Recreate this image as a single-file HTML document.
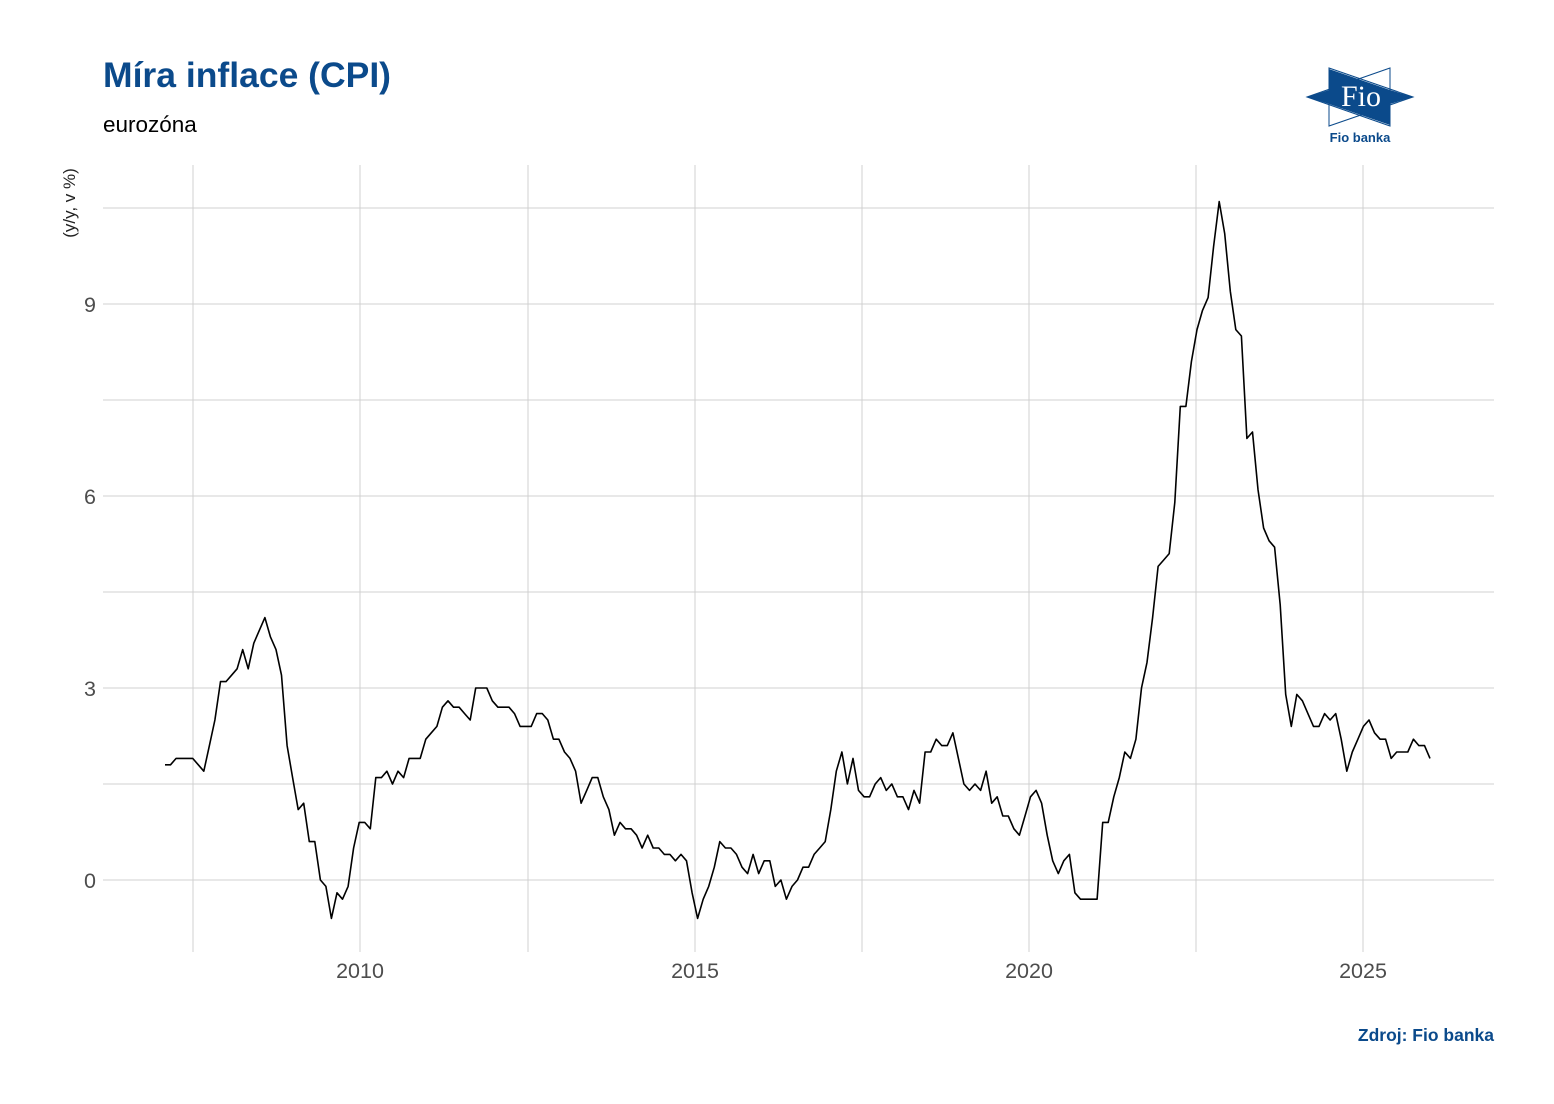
<!DOCTYPE html>
<html><head><meta charset="utf-8"><style>
body{margin:0;background:#fff;width:1554px;height:1104px;overflow:hidden}
svg{display:block}
</style></head><body>
<svg width="1554" height="1104" xmlns="http://www.w3.org/2000/svg" font-family="Liberation Sans, sans-serif">
<rect width="1554" height="1104" fill="#fff"/>
<text x="103" y="87" font-size="35.5" font-weight="bold" fill="#0b4a8b">Míra inflace (CPI)</text>
<text x="103" y="132" font-size="22.5" fill="#000">eurozóna</text>
<g id="grid" stroke="#d0d0d0" stroke-width="1"></g>
<g font-size="21.5" fill="#4d4d4d" text-anchor="end">
<text x="96" y="888">0</text><text x="96" y="696">3</text><text x="96" y="504">6</text><text x="96" y="312">9</text>
</g>
<g font-size="21.5" fill="#4d4d4d" text-anchor="middle">
<text x="360" y="978">2010</text><text x="695" y="978">2015</text><text x="1029" y="978">2020</text><text x="1363" y="978">2025</text>
</g>
<text transform="translate(75,203) rotate(-90)" font-size="17" text-anchor="middle" fill="#222">(y/y, v %)</text>
<polyline id="line" fill="none" stroke="#000" stroke-width="1.6" stroke-linejoin="round"/>
<text x="1494" y="1041" font-size="17.5" font-weight="bold" fill="#0b4a8b" text-anchor="end">Zdroj: Fio banka</text>
<g>
<polygon points="1307,97 1390,68 1390,126" fill="none" stroke="#0b4a8b" stroke-width="1"/>
<polygon points="1413,97 1329,68 1329,126" fill="none" stroke="#0b4a8b" stroke-width="1"/>
<polygon points="1329,69 1390,90 1413,97 1390,104 1390,125 1329,104 1307,97 1329,90" fill="#0b4a8b"/>
<text x="1361" y="106" font-family="Liberation Serif, serif" font-size="30" fill="#fff" text-anchor="middle">Fio</text>
<text x="1360" y="142" font-size="13" font-weight="bold" fill="#0b4a8b" text-anchor="middle">Fio banka</text>
</g>
</svg>
<script>
var g=document.getElementById('grid'),ns='http://www.w3.org/2000/svg';
function ln(x1,y1,x2,y2){var l=document.createElementNS(ns,'line');l.setAttribute('x1',x1);l.setAttribute('y1',y1);l.setAttribute('x2',x2);l.setAttribute('y2',y2);g.appendChild(l);}
[880,784,688,592,496,400,304,208].forEach(function(y){ln(103,y,1494,y);});
[193,360,528,695,862,1029,1196,1363].forEach(function(x){ln(x,165,x,952);});
var d=[1.8,1.8,1.9,1.9,1.9,1.9,1.8,1.7,2.1,2.5,3.1,3.1,
3.2,3.3,3.6,3.3,3.7,3.9,4.1,3.8,3.6,3.2,2.1,1.6,
1.1,1.2,0.6,0.6,0.0,-0.1,-0.6,-0.2,-0.3,-0.1,0.5,0.9,
0.9,0.8,1.6,1.6,1.7,1.5,1.7,1.6,1.9,1.9,1.9,2.2,
2.3,2.4,2.7,2.8,2.7,2.7,2.6,2.5,3.0,3.0,3.0,2.8,
2.7,2.7,2.7,2.6,2.4,2.4,2.4,2.6,2.6,2.5,2.2,2.2,
2.0,1.9,1.7,1.2,1.4,1.6,1.6,1.3,1.1,0.7,0.9,0.8,
0.8,0.7,0.5,0.7,0.5,0.5,0.4,0.4,0.3,0.4,0.3,-0.2,
-0.6,-0.3,-0.1,0.2,0.6,0.5,0.5,0.4,0.2,0.1,0.4,0.1,
0.3,0.3,-0.1,0.0,-0.3,-0.1,0.0,0.2,0.2,0.4,0.5,0.6,
1.1,1.7,2.0,1.5,1.9,1.4,1.3,1.3,1.5,1.6,1.4,1.5,
1.3,1.3,1.1,1.4,1.2,2.0,2.0,2.2,2.1,2.1,2.3,1.9,
1.5,1.4,1.5,1.4,1.7,1.2,1.3,1.0,1.0,0.8,0.7,1.0,
1.3,1.4,1.2,0.7,0.3,0.1,0.3,0.4,-0.2,-0.3,-0.3,-0.3,
-0.3,0.9,0.9,1.3,1.6,2.0,1.9,2.2,3.0,3.4,4.1,4.9,
5.0,5.1,5.9,7.4,7.4,8.1,8.6,8.9,9.1,9.9,10.6,10.1,
9.2,8.6,8.5,6.9,7.0,6.1,5.5,5.3,5.2,4.3,2.9,2.4,
2.9,2.8,2.6,2.4,2.4,2.6,2.5,2.6,2.2,1.7,2.0,2.2,
2.4,2.5,2.3,2.2,2.2,1.9,2.0,2.0,2.0,2.2,2.1,2.1,1.9];
var n=d.length,p=[];
for(var i=0;i<n;i++){p.push((165+i*(1430-165)/(n-1)).toFixed(1)+','+(880-64*d[i]).toFixed(1));}
document.getElementById('line').setAttribute('points',p.join(' '));
</script>
</body></html>
